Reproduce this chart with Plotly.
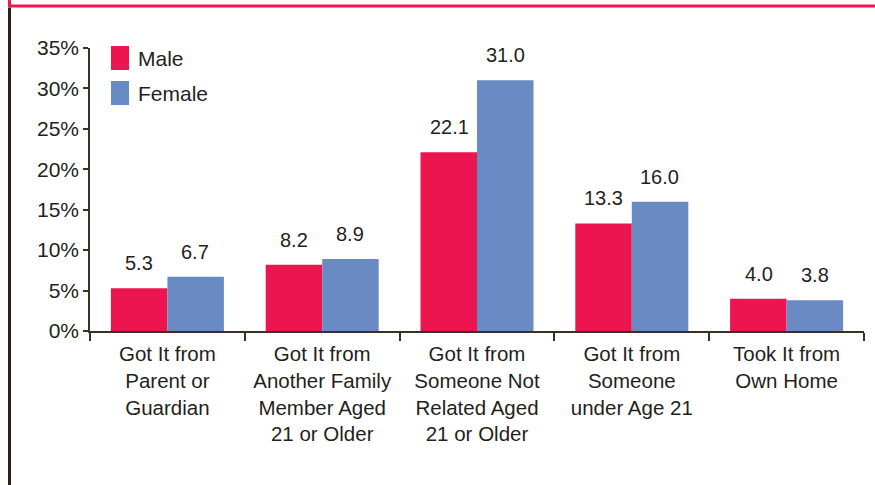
import plotly.graph_objects as go

categories = [
    "Got It from<br>Parent or<br>Guardian",
    "Got It from<br>Another Family<br>Member Aged<br>21 or Older",
    "Got It from<br>Someone Not<br>Related Aged<br>21 or Older",
    "Got It from<br>Someone<br>under Age 21",
    "Took It from<br>Own Home",
]
male = [5.3, 8.2, 22.1, 13.3, 4.0]
female = [6.7, 8.9, 31.0, 16.0, 3.8]
series_names = ["Male", "Female"]
series_colors = ["#EC1550", "#6A8AC4"]
y_ticks = [0, 5, 10, 15, 20, 25, 30, 35]
y_tick_labels = ["0%", "5%", "10%", "15%", "20%", "25%", "30%", "35%"]

FONT = "Liberation Sans, Arial, sans-serif"
TXT = "#231F20"
AX = "#3a3026"

W, H = 875, 485
ML, MR, MT, MB = 90, 11, 48, 154
PW, PH = W - ML - MR, H - MT - MB


def px(x):
    return (x - ML) / PW


def py(y):
    return (H - MB - y) / PH


fig = go.Figure()
for name, vals, col in zip(series_names, [male, female], series_colors):
    fig.add_trace(go.Bar(x=categories, y=vals, name=name, marker_color=col,
                         marker_line_width=0, showlegend=False, hoverinfo="skip"))

annotations = []
for vals, shift in [(male, -28), (female, 28)]:
    for c, v in zip(categories, vals):
        annotations.append(dict(x=c, y=v, xref="x", yref="y", text=f"{v:.1f}",
                                showarrow=False, yanchor="bottom", xshift=shift,
                                yshift=12, font=dict(size=20, color=TXT, family=FONT)))

shapes = []
# manual legend
leg_tops = [46, 81]
for name, col, top in zip(series_names, series_colors, leg_tops):
    shapes.append(dict(type="rect", xref="paper", yref="paper",
                       x0=px(111), x1=px(129), y0=py(top + 24), y1=py(top),
                       fillcolor=col, line_width=0))
    annotations.append(dict(x=px(136), y=py(top + 12), xref="paper", yref="paper",
                            text=name, showarrow=False, xanchor="left", yanchor="middle",
                            font=dict(size=21, color=TXT, family=FONT)))

# frame lines
shapes.append(dict(type="line", xref="paper", yref="paper", x0=px(9.5), x1=px(875),
                   y0=py(6), y1=py(6), line=dict(color="#EE1651", width=3)))
shapes.append(dict(type="line", xref="paper", yref="paper", x0=px(9.5), x1=px(9.5),
                   y0=py(0), y1=py(7), line=dict(color="#EE1651", width=3)))
shapes.append(dict(type="line", xref="paper", yref="paper", x0=px(9.5), x1=px(9.5),
                   y0=py(7.5), y1=py(485), line=dict(color="#2b2116", width=3)))

fig.update_layout(
    width=W, height=H,
    margin=dict(l=ML, r=MR, t=MT, b=MB),
    paper_bgcolor="white", plot_bgcolor="white",
    barmode="group", bargap=0.27, bargroupgap=0,
    font=dict(family=FONT, size=21, color=TXT),
    annotations=annotations, shapes=shapes,
    xaxis=dict(showline=True, linecolor=AX, linewidth=1.5, ticks="outside",
               tickson="boundaries", ticklen=8, tickwidth=1.5, tickcolor=AX,
               ticklabelstandoff=4,
               showgrid=False, tickfont=dict(size=20.5, color=TXT, family=FONT)),
    yaxis=dict(range=[0, 35], tickvals=y_ticks, ticktext=y_tick_labels, showline=True,
               linecolor=AX, linewidth=1.5, ticks="outside", ticklen=5, tickwidth=1.5,
               tickcolor=AX, showgrid=False, zeroline=False,
               tickfont=dict(size=21, color=TXT, family=FONT)),
)

fig.write_html("out.html", config={"displayModeBar": False},
               post_script="document.body.style.margin='0';document.body.style.padding='0';")
